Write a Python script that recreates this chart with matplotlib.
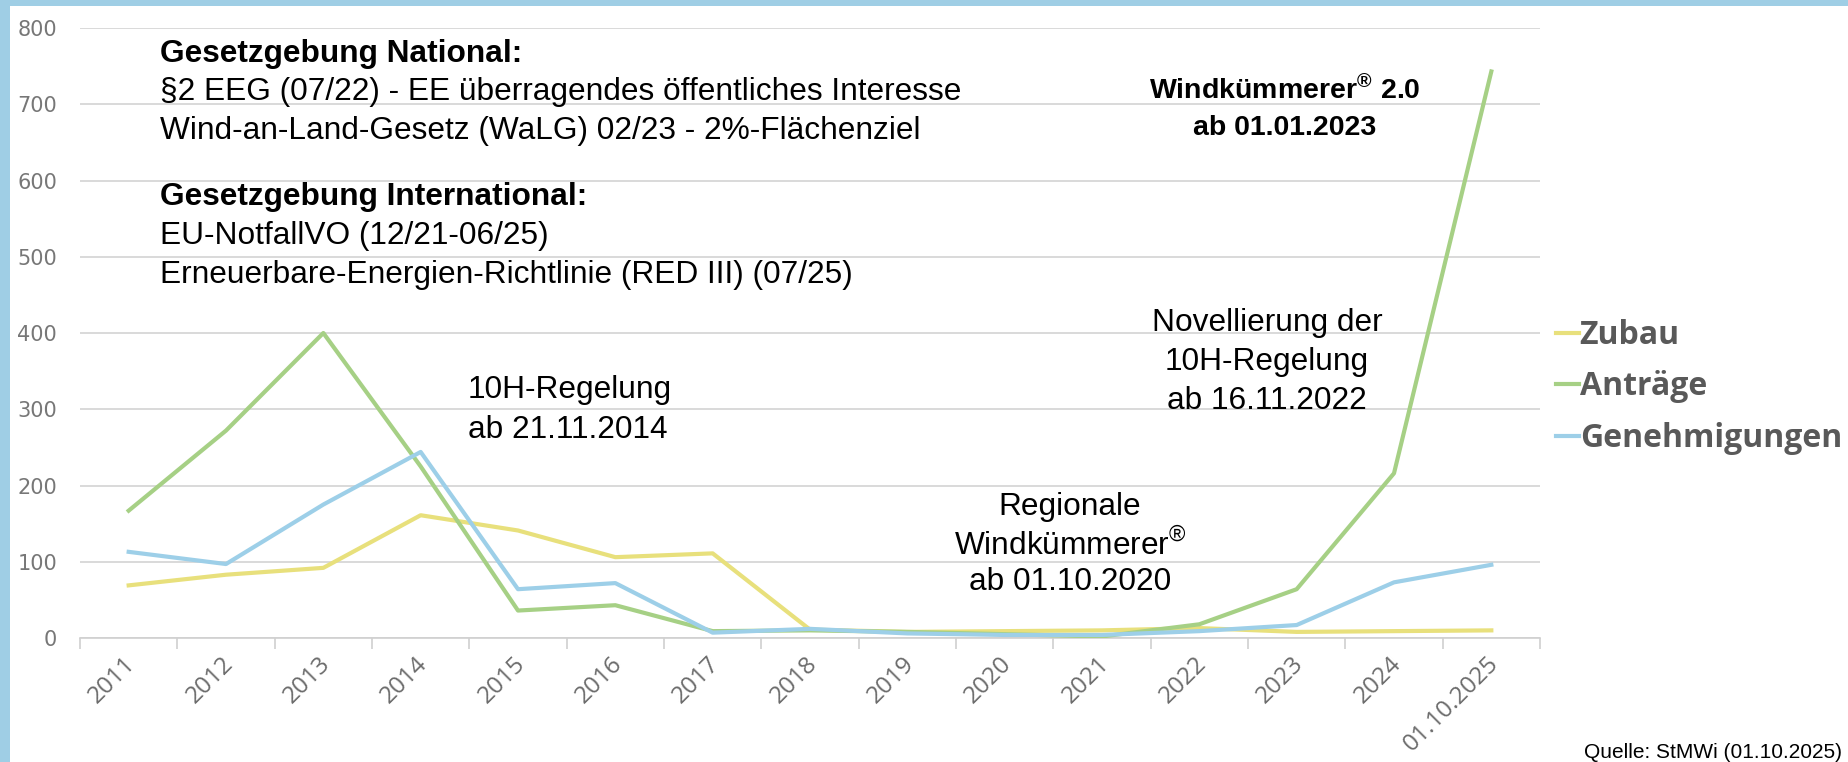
import matplotlib
matplotlib.use("Agg")
import matplotlib.pyplot as plt
from matplotlib.lines import Line2D
import matplotlib.patches as mpatches
from matplotlib.transforms import ScaledTranslation

categories = ["2011", "2012", "2013", "2014", "2015", "2016", "2017", "2018",
              "2019", "2020", "2021", "2022", "2023", "2024", "01.10.2025"]
zubau = [69, 83, 92, 161, 141, 106, 111, 11, 8, 9, 10, 13, 8, 9, 10]
antraege = [167, 272, 400, 225, 36, 43, 9, 10, 8, 5, 2, 18, 64, 216, 743]
genehmigungen = [113, 97, 175, 244, 64, 72, 7, 12, 6, 4, 4, 9, 17, 73, 96]
yticks = [0, 100, 200, 300, 400, 500, 600, 700, 800]

c_zubau = "#E8E07C"
c_antr = "#A6D085"
c_gen = "#9DCFE8"
border = "#9FCEE5"

plt.rcParams['mathtext.fontset'] = 'custom'
plt.rcParams['mathtext.rm'] = 'Liberation Sans'

W, H = 1848, 762
fig = plt.figure(figsize=(W / 100, H / 100), dpi=100)
fig.patch.set_facecolor("white")

# light-blue frame (top and left)
fig.patches.append(mpatches.Rectangle((0, 0), 10 / W, 1, transform=fig.transFigure,
                                      facecolor=border, edgecolor="none", zorder=0))
fig.patches.append(mpatches.Rectangle((0, 1 - 6 / H), 1, 6 / H, transform=fig.transFigure,
                                      facecolor=border, edgecolor="none", zorder=0))

ax = fig.add_axes([80 / W, 1 - 638 / H, 1460 / W, 610 / H])
x = list(range(len(categories)))
ax.plot(x, zubau, color=c_zubau, lw=3.0, solid_joinstyle="round", zorder=3)
ax.plot(x, antraege, color=c_antr, lw=3.0, solid_joinstyle="round", zorder=3)
ax.plot(x, genehmigungen, color=c_gen, lw=3.0, solid_joinstyle="round", zorder=4)

ax.set_xlim(-0.5, len(categories) - 0.5)
ax.set_ylim(0, 800)
ax.set_yticks(yticks)
ax.set_yticklabels([str(v) for v in yticks], fontsize=15, color="#777777",
                   family="DejaVu Sans")
ax.tick_params(axis="y", length=0, pad=16.5)
ax.yaxis.grid(True, color="#d9d9d9", lw=1.4)
ax.set_axisbelow(True)

ax.set_xticks(x)
ax.set_xticklabels(categories, rotation=45, ha="right", rotation_mode="anchor",
                   fontsize=17.5, color="#6b6b6b", family="Open Sans")
ax.tick_params(axis="x", length=0, pad=10)
shift = ScaledTranslation(-5 / 100, 0, fig.dpi_scale_trans)
for lab in ax.get_xticklabels():
    lab.set_transform(lab.get_transform() + shift)
ax.set_xticks([i - 0.5 for i in range(len(categories) + 1)], minor=True)
ax.tick_params(axis="x", which="minor", length=8, color="#d0d0d0", width=1.2)

for s in ["top", "right", "left"]:
    ax.spines[s].set_visible(False)
ax.spines["bottom"].set_color("#d0d0d0")
ax.spines["bottom"].set_linewidth(1.2)

def ft(px, py, s, **kw):
    fig.text(px / W, 1 - py / H, s, **kw)

base = dict(family="Liberation Sans", fontsize=22.8, color="black", va="center")
ft(160, 54, "Gesetzgebung National:", weight="bold", **base)
ft(160, 92, "§2 EEG (07/22) - EE überragendes öffentliches Interesse", **base)
ft(160, 131, "Wind-an-Land-Gesetz (WaLG) 02/23 - 2%-Flächenziel", **base)
ft(160, 197, "Gesetzgebung International:", weight="bold", **base)
ft(160, 236, "EU-NotfallVO (12/21-06/25)", **base)
ft(160, 275, "Erneuerbare-Energien-Richtlinie (RED III) (07/25)", **base)

wk = dict(base, fontsize=20.5)
ft(1285, 90, r"Windkümmerer$^{\mathregular{®}}$ 2.0", weight="bold", ha="center", **wk)
ft(1285, 128, "ab 01.01.2023", weight="bold", ha="center", **wk)

ft(1267, 323, "Novellierung der", ha="center", **base)
ft(1267, 362, "10H-Regelung", ha="center", **base)
ft(1267, 401, "ab 16.11.2022", ha="center", **base)

ft(468, 390, "10H-Regelung", **base)
ft(468, 430, "ab 21.11.2014", **base)

ft(1070, 507, "Regionale", ha="center", **base)
ft(1070, 545, r"Windkümmerer$^{\mathregular{®}}$", ha="center", **base)
ft(1070, 582, "ab 01.10.2020", ha="center", **base)

# legend
handles = [Line2D([], [], color=c, lw=3) for c in (c_zubau, c_antr, c_gen)]
leg = ax.legend(handles, ["Zubau", "Anträge", "Genehmigungen"],
                loc="center left", bbox_to_anchor=(1556 / W, 1 - 387 / H),
                bbox_transform=fig.transFigure, frameon=False,
                borderpad=0, borderaxespad=0,
                handlelength=0.72, handletextpad=0.02, labelspacing=0.58,
                prop=dict(family="Open Sans", weight="bold", size=23))
for t in leg.get_texts():
    t.set_color("#595959")

ft(1842, 753, "Quelle: StMWi (01.10.2025)", family="Liberation Sans", fontsize=15,
   ha="right", va="center", color="black")

fig.savefig("out.png", dpi=100, facecolor="white")
